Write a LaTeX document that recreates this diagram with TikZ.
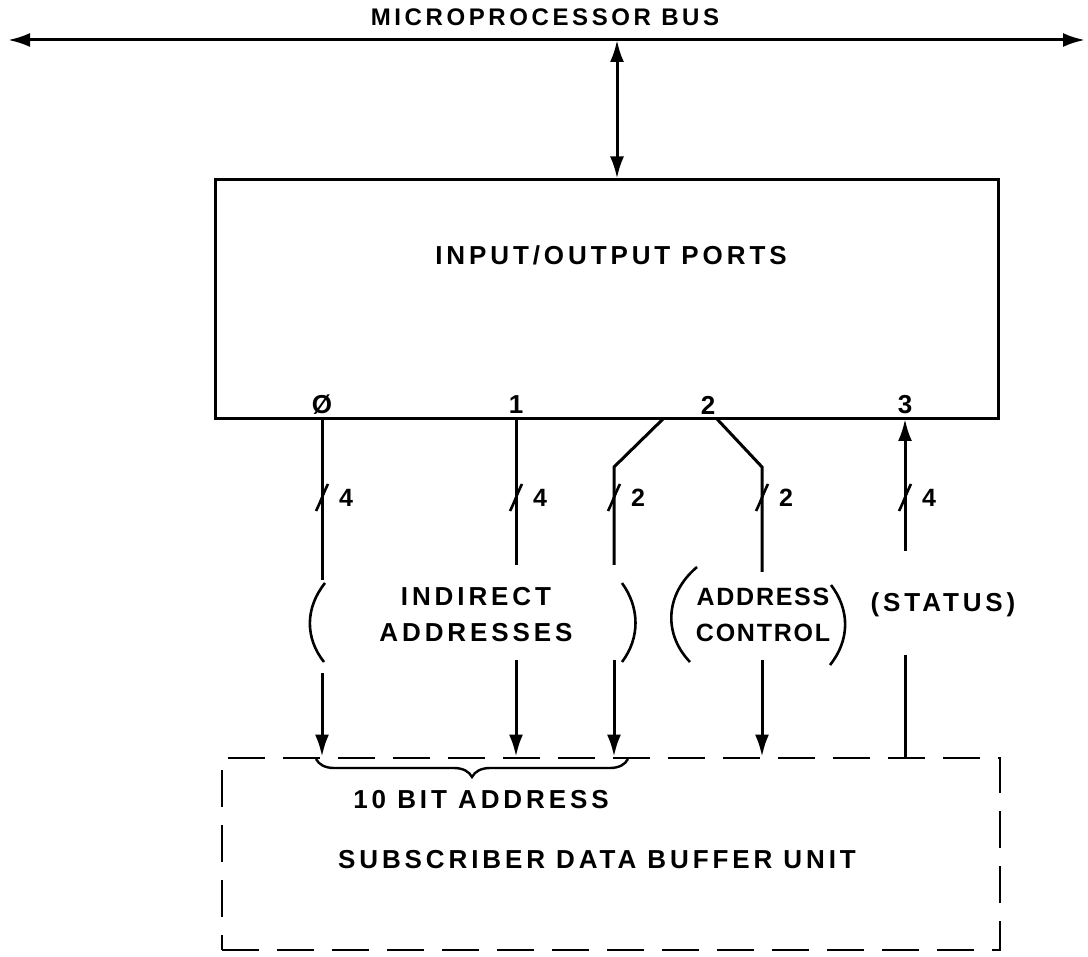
\documentclass[tikz,border=0pt]{standalone}
\usepackage{fontspec}
\setmainfont{Liberation Sans}[LetterSpace=15]
\usetikzlibrary{arrows.meta,decorations.pathreplacing}
\begin{document}
\begin{tikzpicture}[x=1pt,y=-1pt,
  line width=3pt,
  lbl/.style={font=\fontsize{26}{32}\selectfont\bfseries, inner sep=0pt, align=center},
  small/.style={font=\fontsize{25}{28}\selectfont\bfseries, inner sep=0pt},
  arr/.style={-{Latex[length=22pt,width=14pt]}},
  dbl/.style={{Latex[length=22pt,width=14pt]}-{Latex[length=22pt,width=14pt]}},
  tick/.style={line width=2.6pt},
  paren/.style={line width=2.6pt},
  dsh/.style={line width=2.8pt, dash pattern=on 37pt off 18pt}]
\useasboundingbox (0,0) rectangle (1088,957);
% bus
\coordinate (busL) at (8,40);
\coordinate (busR) at (1085,40);
\coordinate (busT) at (617,40);
\draw[dbl] (busL) -- (busR);
\node[lbl, font=\fontsize{24}{28}\selectfont\bfseries] (bustxt) at (545,17) {MICROPROCESSOR BUS};
% IO box
\node[draw, minimum width=783pt, minimum height=239pt, inner sep=0pt] (io) at (606.5,299.5) {};
\node[lbl] (iotxt) at (611,255) {INPUT/OUTPUT PORTS};
\draw[dbl] (busT) -- (io.north -| busT);
% port labels
\node[lbl] (p0) at (322,405) {Ø};
\node[lbl] (p1) at (516,405) {1};
\node[lbl] (p2) at (708,405) {2};
\node[lbl] (p3) at (905,405) {3};
% port 0
\coordinate (a0) at (322,419);
\coordinate (b0) at (322,580);
\draw (a0) -- (b0);
% port 1
\coordinate (a1) at (516,419);
\coordinate (b1) at (516,565);
\draw (a1) -- (b1);
% port 2 split
\coordinate (a2l) at (663,419);
\coordinate (k2l) at (614,467);
\coordinate (b2l) at (614,565);
\draw (a2l) -- (k2l) -- (b2l);
\coordinate (a2r) at (717,419);
\coordinate (k2r) at (762,467);
\coordinate (b2r) at (762,572);
\draw (a2r) -- (k2r) -- (b2r);
% port 3
\coordinate (a3) at (905,419);
\coordinate (b3) at (905,551);
\draw[arr] (b3) -- (a3);
% width ticks
\foreach \x/\n in {322/4,516/4,614/2,762/2,905/4}{
  \draw[tick] (\x-6,511) .. controls (\x-1,501) and (\x+1,494) .. (\x+6,484);
  \node[small] at (\x+24,498) {\n};
}
% labels with parens
\node[lbl] (ind) at (476,615) {INDIRECT\\[4pt]ADDRESSES};
\draw[paren] (325,583) .. controls (305,608) and (305,638) .. (324,662);
\draw[paren] (622,583) .. controls (640,608) and (640,638) .. (622,662);
\node[lbl, font=\fontsize{25}{32}\selectfont\bfseries\addfontfeature{LetterSpace=7}] (adc) at (763,615) {ADDRESS\\[4pt]CONTROL};
\draw[paren] (697,567) .. controls (664,595) and (664,635) .. (690,662);
\draw[paren] (831,585) .. controls (850,610) and (850,640) .. (830,665);
\node[lbl] (sta) at (943,605) {(STATUS)};
% SDBU
\node[dsh, draw, minimum width=778pt, minimum height=192pt, inner sep=0pt] (sdbu) at (611,854) {};
\node[lbl] (sdtxt) at (597,860) {SUBSCRIBER DATA BUFFER UNIT};
% arrows into SDBU
\coordinate (c0) at (322,673);
\coordinate (c1) at (516,660);
\coordinate (c2l) at (614,660);
\coordinate (c2r) at (762,660);
\coordinate (c3) at (905,655);
\draw[arr] (c0) -- (sdbu.north -| c0);
\draw[arr] (c1) -- (sdbu.north -| c1);
\draw[arr] (c2l) -- (sdbu.north -| c2l);
\draw[arr] (c2r) -- (sdbu.north -| c2r);
\draw (c3) -- (sdbu.north -| c3);
% brace
\coordinate (brL) at (316,759);
\coordinate (brR) at (628,759);
\draw[line width=2.4pt, decorate, decoration={brace,mirror,amplitude=18pt}] (brL) -- (brR);
\node[lbl] (bit) at (481,800) {10 BIT ADDRESS};
\end{tikzpicture}
\end{document}
